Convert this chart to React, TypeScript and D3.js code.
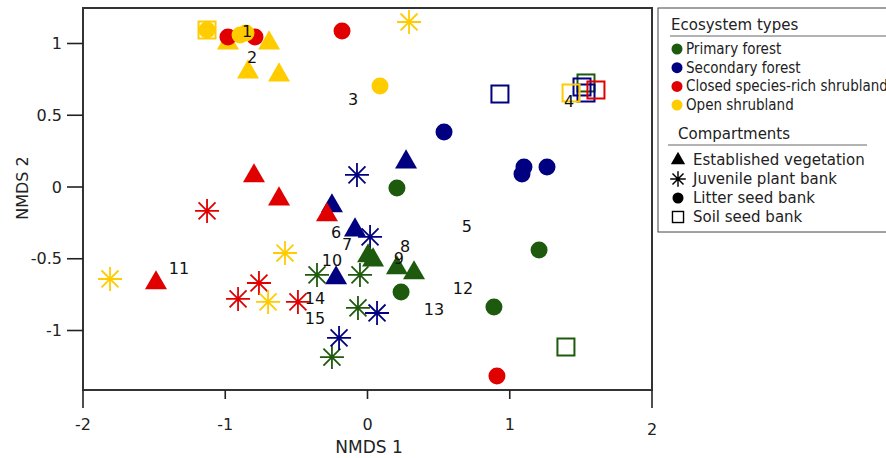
import React from 'react';
import * as d3 from 'd3';

type P = [number, number];

const ecosystems = ['Primary forest', 'Secondary forest', 'Closed species-rich shrubland', 'Open shrubland'];
const ecoColors = ['#1e5a0d', '#000080', '#e00000', '#ffcc00'];
const compartments = ['Established vegetation', 'Juvenile plant bank', 'Litter seed bank', 'Soil seed bank'];

const xTicks = [-2, -1, 0, 1, 2];
const yTicks = [1, 0.5, 0, -0.5, -1];

// Primary forest
const primaryEstablished: P[] = [[0.004, -0.481], [0.039, -0.509], [0.207, -0.564], [0.327, -0.599]];
const primaryJuvenile: P[] = [[-0.355, -0.613], [-0.053, -0.613], [-0.067, -0.843], [-0.25, -1.185]];
const primaryLitter: P[] = [[0.207, -0.007], [1.206, -0.439], [0.889, -0.836], [0.236, -0.732]];
const primarySoil: P[] = [[1.536, 0.725], [1.395, -1.115]];
// Secondary forest
const secondaryEstablished: P[] = [[0.271, 0.174], [-0.25, -0.132], [-0.088, -0.3], [-0.221, -0.634]];
const secondaryJuvenile: P[] = [[-0.074, 0.084], [0.018, -0.348], [0.067, -0.878], [-0.2, -1.052]];
const secondaryLitter: P[] = [[0.538, 0.383], [1.1, 0.139], [1.086, 0.091], [1.262, 0.139]];
const secondarySoil: P[] = [[0.931, 0.648], [1.508, 0.697], [1.536, 0.655]];
// Closed species-rich shrubland
const closedEstablished: P[] = [[-0.798, 0.077], [-0.622, -0.084], [-0.285, -0.195], [-1.487, -0.669]];
const closedJuvenile: P[] = [[-1.128, -0.167], [-0.763, -0.669], [-0.91, -0.78], [-0.489, -0.801]];
const closedLitter: P[] = [[-0.981, 1.045], [-0.791, 1.045], [-0.179, 1.087], [0.91, -1.317]];
const closedSoil: P[] = [[1.606, 0.676]];
// Open shrubland
const openEstablished: P[] = [[-0.981, 1.003], [-0.692, 1.003], [-0.84, 0.801], [-0.622, 0.78]];
const openJuvenile: P[] = [[0.292, 1.15], [-1.81, -0.641], [-0.58, -0.46], [-0.699, -0.801]];
const openLitter: P[] = [[-1.128, 1.094], [-0.896, 1.059], [-0.854, 1.073], [0.088, 0.704]];
const openSoil: P[] = [[-1.128, 1.094], [1.431, 0.655]];

const siteLabels = ['1', '2', '3', '4', '5', '6', '7', '8', '9', '10', '11', '12', '13', '14', '15'];
const siteX = [-0.847, -0.812, -0.102, 1.417, 0.699, -0.221, -0.144, 0.264, 0.221, -0.25, -1.325, 0.671, 0.467, -0.369, -0.369];
const siteY = [1.087, 0.899, 0.613, 0.599, -0.272, -0.314, -0.404, -0.418, -0.495, -0.509, -0.571, -0.704, -0.857, -0.78, -0.913];

const soilSets = [primarySoil, secondarySoil, closedSoil, openSoil];
const juvenileSets = [primaryJuvenile, secondaryJuvenile, closedJuvenile, openJuvenile];
const establishedSets = [primaryEstablished, secondaryEstablished, closedEstablished, openEstablished];
const litterSets = [primaryLitter, secondaryLitter, closedLitter, openLitter];

const W = 886;
const H = 458;
const left = 83, right = 652, top = 8, bottom = 390;

const x = d3.scaleLinear().domain([-2, 2]).range([left, right]);
const y = d3.scaleLinear().domain([-1, 1]).range([330.5, 43.5]);

const FONT = "'DejaVu Sans', Verdana, sans-serif";

const starPath = (r: number) => {
  const a = r * Math.SQRT1_2;
  return `M${-r},0L${r},0M0,${-r}L0,${r}M${-a},${-a}L${a},${a}M${-a},${a}L${a},${-a}`;
};
const triPath = (side: number) => d3.symbol(d3.symbolTriangle, (Math.sqrt(3) / 4) * side * side)() as string;

const Marker = ({ kind, cx, cy, color, scale = 1 }: { kind: number; cx: number; cy: number; color: string; scale?: number }) => {
  if (kind === 0) return <path d={triPath(22 * scale)} transform={`translate(${cx},${cy})`} fill={color} />;
  if (kind === 1) return <path d={starPath(12 * scale)} transform={`translate(${cx},${cy})`} stroke={color} strokeWidth={1.8 * Math.max(scale, 0.8)} fill="none" />;
  if (kind === 2) return <circle cx={cx} cy={cy} r={8.5 * scale} fill={color} />;
  const s = 17 * scale;
  return <rect x={cx - s / 2} y={cy - s / 2} width={s} height={s} fill="none" stroke={color} strokeWidth={2 * Math.max(scale, 0.7)} />;
};

export default function App() {
  const layers: { kind: number; sets: P[][] }[] = [
    { kind: 3, sets: soilSets },
    { kind: 1, sets: juvenileSets },
    { kind: 0, sets: establishedSets },
    { kind: 2, sets: litterSets },
  ];
  return (
    <svg width={W} height={H} style={{ position: 'absolute', left: 0, top: 0, background: '#fff' }} fontFamily={FONT}>
      {/* frame */}
      <rect x={left} y={top} width={right - left} height={bottom - top} fill="none" stroke="#333" strokeWidth={2} />
      {/* x ticks */}
      {xTicks.map((t, i) => (
        <g key={'xt' + t}>
          <line x1={x(t)} x2={x(t)} y1={bottom} y2={i === 0 || i === xTicks.length - 1 ? bottom + 18 : bottom + 9} stroke="#222" strokeWidth={1.6} />
          <text x={x(t)} y={i === xTicks.length - 1 ? 429 : 424} textAnchor="middle" dominantBaseline="central" fontSize={16} fill="#222">{t}</text>
        </g>
      ))}
      {/* y ticks */}
      {yTicks.map((t) => (
        <g key={'yt' + t}>
          <line x1={left - 16} x2={left} y1={y(t)} y2={y(t)} stroke="#222" strokeWidth={1.6} />
          <text x={62} y={y(t)} textAnchor="end" dominantBaseline="central" fontSize={16} fill="#222">{t}</text>
        </g>
      ))}
      <text x={369} y={447} textAnchor="middle" dominantBaseline="central" fontSize={17} fill="#222">NMDS 1</text>
      <text transform={`translate(22,188) rotate(-90)`} textAnchor="middle" dominantBaseline="central" fontSize={16} fill="#222">NMDS 2</text>

      {/* markers */}
      {layers.map((layer) =>
        layer.sets.map((pts, e) =>
          pts.map((p, j) => (
            <Marker key={`${layer.kind}-${e}-${j}`} kind={layer.kind} cx={x(p[0])} cy={y(p[1])} color={ecoColors[e]} />
          ))
        )
      )}

      {/* site labels */}
      {siteLabels.map((l, i) => (
        <text key={'s' + l} x={x(siteX[i])} y={y(siteY[i])} textAnchor="middle" dominantBaseline="central" fontSize={16} fill="#111">{l}</text>
      ))}

      {/* legend */}
      <rect x={658} y={8} width={260} height={224} fill="#fff" stroke="#444" strokeWidth={1} />
      <text x={671} y={25} dominantBaseline="central" fontSize={15} fill="#222">Ecosystem types</text>
      <line x1={670} x2={886} y1={36} y2={36} stroke="#666" strokeWidth={1} />
      {ecosystems.map((name, i) => (
        <g key={name}>
          <circle cx={677} cy={49 + i * 18.7} r={5.5} fill={ecoColors[i]} />
          <text x={686} y={49 + i * 18.7} dominantBaseline="central" fontSize={15} fontStretch="condensed" fontFamily="'DejaVu Sans Condensed', 'DejaVu Sans', sans-serif" fill="#222">{name}</text>
        </g>
      ))}
      <text x={678} y={134} dominantBaseline="central" fontSize={15} fill="#222">Compartments</text>
      <line x1={668} x2={867} y1={145} y2={145} stroke="#666" strokeWidth={1} />
      {compartments.map((name, i) => (
        <g key={name}>
          <Marker kind={i} cx={678} cy={160 + i * 19} color="#000" scale={0.65} />
          <text x={693} y={160 + i * 19} dominantBaseline="central" fontSize={15} fill="#222">{name}</text>
        </g>
      ))}
    </svg>
  );
}
